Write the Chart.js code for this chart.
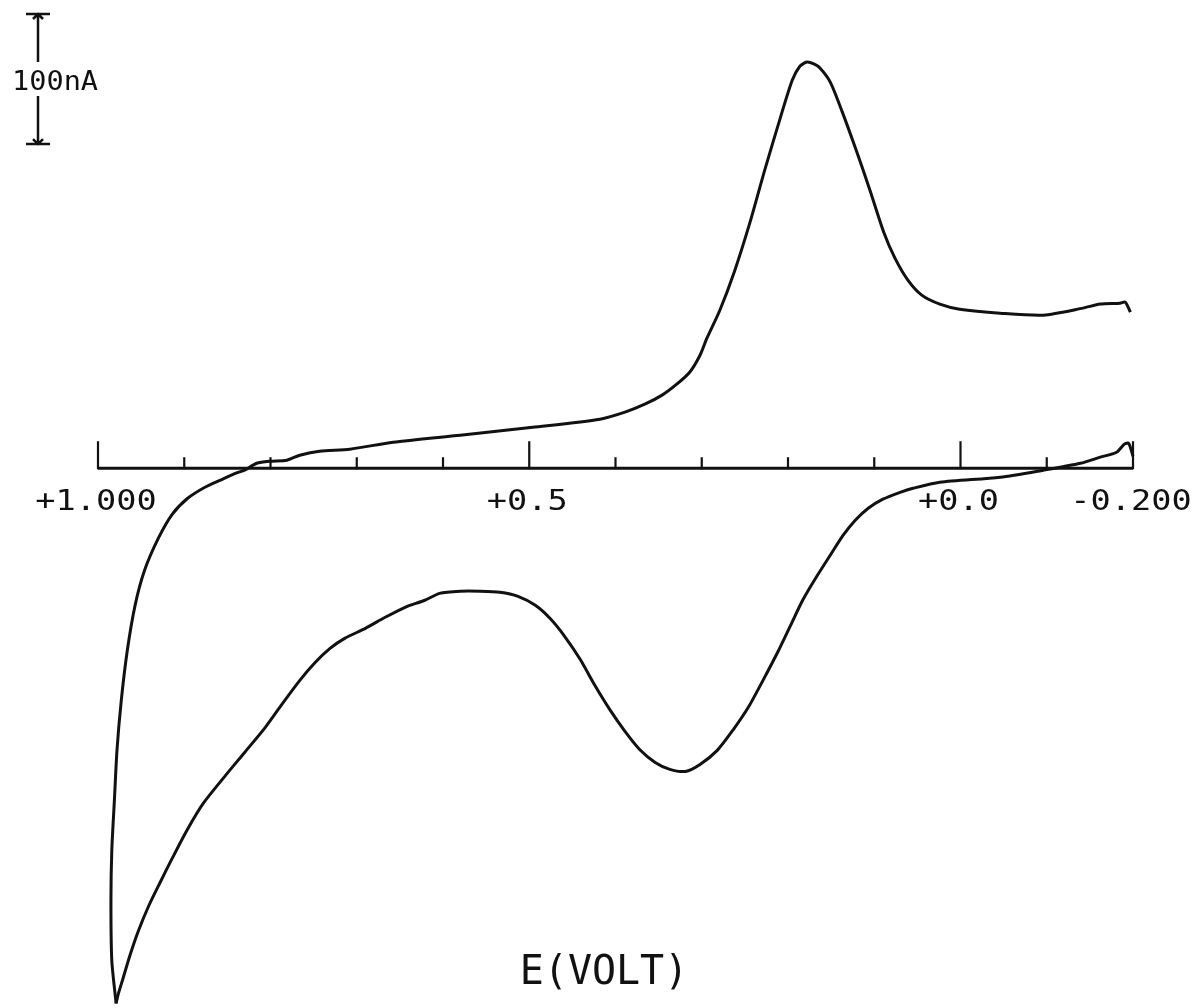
<!DOCTYPE html>
<html>
<head>
<meta charset="utf-8">
<title>Cyclic voltammogram</title>
<script src="https://cdn.jsdelivr.net/npm/chart.js@4.4.0/dist/chart.umd.min.js"></script>
<style>
  html, body { margin: 0; padding: 0; background: #fff; }
  #wrap { width: 1204px; height: 1008px; }
</style>
</head>
<body>
<div id="wrap"><canvas id="cv"></canvas></div>
<script>
// forward scan: from the +1.0 V vertex up, then along the top towards -0.2 V
const scanAE = [0.979, 0.984, 0.985, 0.984, 0.981, 0.978, 0.973, 0.966, 0.957, 0.946, 0.930, 0.914, 0.896, 0.876, 0.856, 0.840,
  0.830, 0.816, 0.801, 0.781, 0.766, 0.743, 0.708, 0.658, 0.580, 0.496, 0.418, 0.389, 0.366, 0.346, 0.329, 0.314, 0.302,
  0.294, 0.279, 0.262, 0.244, 0.227, 0.209, 0.195, 0.186, 0.178, 0.170, 0.163, 0.151, 0.137, 0.121, 0.105, 0.089, 0.076,
  0.061, 0.045, 0.024, 0.001, -0.046, -0.096, -0.142, -0.162, -0.185, -0.191, -0.197];
const scanAI = [-411.5, -378.5, -332.3, -293.8, -255.4, -216.9, -178.5, -140, -105.4, -78.5, -53.8, -35.4, -23.1, -14.6, -8.5, -3.8,
  -1.5, 3.8, 5.4, 6.2, 10, 13.1, 14.6, 20.0, 25.4, 31.5, 37.7, 43.1, 49.2, 56.2, 64.6, 73.8, 86.9,
  100, 121.5, 151.5, 189.2, 229.2, 269.2, 298.5, 309.2, 312.3, 310.8, 307.7, 296.9, 273.8, 244.6, 213.8, 181.5, 161.5,
  144.6, 133.1, 126.2, 122.3, 119.2, 117.7, 123.1, 126.2, 126.9, 127.7, 120];

// return scan: from -0.2 V back to the +1.0 V vertex along the bottom
const scanBE = [-0.200, -0.195, -0.190, -0.181, -0.162, -0.139, -0.096, -0.046, 0.024, 0.055, 0.070, 0.090, 0.107, 0.122,
  0.136, 0.151, 0.168, 0.183, 0.197, 0.212, 0.229, 0.246, 0.264, 0.282, 0.302, 0.319, 0.337, 0.354, 0.372, 0.389, 0.406,
  0.424, 0.441, 0.459, 0.476, 0.493, 0.513, 0.534, 0.557, 0.580, 0.604, 0.621, 0.644, 0.667, 0.690, 0.714, 0.731, 0.748,
  0.766, 0.786, 0.806, 0.830, 0.853, 0.878, 0.897, 0.914, 0.928, 0.941, 0.953, 0.963, 0.971, 0.977, 0.979];
const scanBI = [9.2, 19.2, 18.5, 12.3, 8.5, 3.8, -1.5, -6.9, -10.8, -15.4, -18.5, -23.8, -30.8, -40,
  -51.5, -66.9, -84.6, -101.5, -120.8, -141.5, -163.1, -183.8, -201.5, -216.9, -227.7, -233.1, -231.5, -226.2, -216.2, -202.3, -186.2,
  -166.9, -146.9, -129.2, -115.4, -105.4, -98.5, -95.4, -94.6, -94.6, -96.2, -101.5, -106.9, -114.6, -123.1, -130.8, -138.5, -149.2,
  -163.1, -180.8, -199.2, -218.5, -236.9, -257.7, -278.5, -300, -318.5, -336.2, -355.4, -374.6, -392.3, -405.4, -411.5];

const tickValues = [1.0, 0.9, 0.8, 0.7, 0.6, 0.5, 0.4, 0.3, 0.2, 0.1, 0.0, -0.1, -0.2];
const majorValues = [1.0, 0.5, 0.0, -0.2];
const majorLabels = ['+1.000', '+0.5', '+0.0', '-0.200'];
const axisTitle = 'E(VOLT)';
const scaleBarValue = 100;
const scaleBarLabel = '100nA';

function pts(es, is) {
  return es.map((e, k) => ({ x: e, y: is[k] }));
}

const plotterFont = '"DejaVu Sans Mono", "Liberation Mono", monospace';

// text a bit wider than the font, like the plotter lettering
function wideText(ctx, txt, x, y, size, sx, align) {
  ctx.save();
  ctx.font = size + 'px ' + plotterFont;
  const w = ctx.measureText(txt).width * sx;
  let left = x;
  if (align === 'center') left = x - w / 2;
  ctx.translate(left, y);
  ctx.scale(sx, 1);
  ctx.textAlign = 'left';
  ctx.fillText(txt, 0, 0);
  ctx.restore();
}

// draws the potential axis, ticks, labels and the current scale bar
const plotterAxis = {
  id: 'plotterAxis',
  afterDatasetsDraw(chart) {
    const ctx = chart.ctx;
    const xs = chart.scales.x, ys = chart.scales.y;
    const y0 = ys.getPixelForValue(0);
    ctx.save();
    ctx.strokeStyle = '#111';
    ctx.fillStyle = '#111';
    ctx.lineWidth = 3;
    ctx.lineCap = 'butt';

    ctx.beginPath();
    ctx.moveTo(xs.getPixelForValue(1.0), y0);
    ctx.lineTo(xs.getPixelForValue(-0.2), y0);
    ctx.stroke();

    ctx.lineWidth = 2.2;
    tickValues.forEach(v => {
      const px = xs.getPixelForValue(v);
      const major = majorValues.some(m => Math.abs(m - v) < 1e-6);
      ctx.beginPath();
      ctx.moveTo(px, y0 + 1);
      ctx.lineTo(px, y0 - (major ? 27 : 11));
      ctx.stroke();
    });

    majorValues.forEach((v, k) => {
      wideText(ctx, majorLabels[k], xs.getPixelForValue(v) - 2, y0 + 42, 28, 1.2, 'center');
    });

    wideText(ctx, axisTitle, 604, 984, 40, 1.0, 'center');

    // 100 nA scale bar
    const bx = 38, top = 14;
    const len = ys.getPixelForValue(0) - ys.getPixelForValue(scaleBarValue);
    const bot = top + len;
    ctx.lineWidth = 2.5;
    ctx.beginPath();
    ctx.moveTo(bx - 12, top); ctx.lineTo(bx + 12, top);
    ctx.moveTo(bx - 12, bot); ctx.lineTo(bx + 12, bot);
    ctx.moveTo(bx, top); ctx.lineTo(bx, top + 48);
    ctx.moveTo(bx, bot - 48); ctx.lineTo(bx, bot);
    ctx.moveTo(bx - 5, top + 5); ctx.lineTo(bx, top); ctx.lineTo(bx + 5, top + 5);
    ctx.moveTo(bx - 5, bot - 5); ctx.lineTo(bx, bot); ctx.lineTo(bx + 5, bot - 5);
    ctx.stroke();
    wideText(ctx, scaleBarLabel, 12, top + 76, 26, 1.1, 'left');
    ctx.restore();
  }
};

new Chart(document.getElementById('cv'), {
  type: 'scatter',
  data: {
    datasets: [
      { data: pts(scanAE, scanAI), showLine: true, borderColor: '#111', borderWidth: 3, pointRadius: 0, tension: 0.25, clip: false },
      { data: pts(scanBE, scanBI), showLine: true, borderColor: '#111', borderWidth: 3, pointRadius: 0, tension: 0.25, clip: false }
    ]
  },
  options: {
    responsive: true,
    maintainAspectRatio: false,
    animation: false,
    layout: { padding: { left: 98, right: 71, top: 13, bottom: 0 } },
    scales: {
      x: { type: 'linear', min: -0.2, max: 1.0, reverse: true, display: false },
      y: { type: 'linear', min: -415, max: 350, display: false }
    },
    plugins: { legend: { display: false }, tooltip: { enabled: false } }
  },
  plugins: [plotterAxis]
});
</script>
</body>
</html>
